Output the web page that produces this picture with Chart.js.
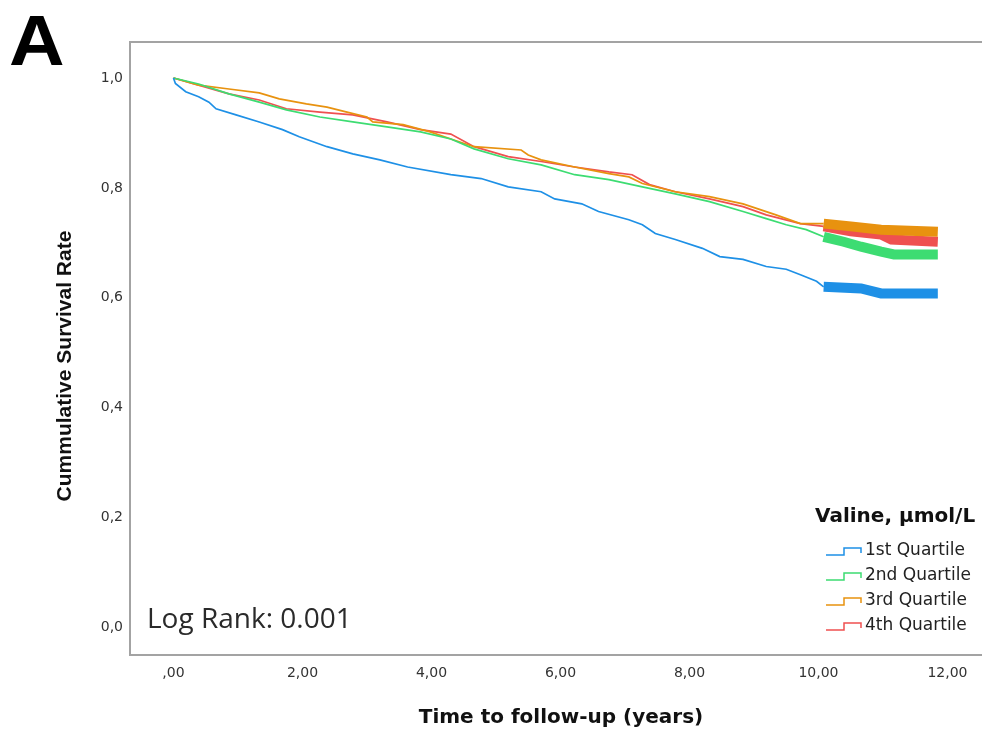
<!DOCTYPE html>
<html>
<head>
<meta charset="utf-8">
<script src="https://cdn.jsdelivr.net/npm/chart.js@4/dist/chart.umd.min.js"></script>
<style>
    html, body { margin: 0; padding: 0; background: #fff; overflow: hidden; }
    #wrap { width: 982px; height: 735px; position: relative; }
</style>
</head>
<body>
<div id="wrap"><canvas id="km"></canvas></div>
<script>
// 그룹 / 축 라벨
const groupLabels = ['1st Quartile', '2nd Quartile', '3rd Quartile', '4th Quartile'];
const legendTitle = 'Valine, μmol/L';
const xTicks = [0, 2, 4, 6, 8, 10, 12];
const xTickLabels = [',00', '2,00', '4,00', '6,00', '8,00', '10,00', '12,00'];
const yTicks = [0, 0.2, 0.4, 0.6, 0.8, 1.0];
const yTickLabels = ['0,0', '0,2', '0,4', '0,6', '0,8', '1,0'];

// Kaplan-Meier 곡선 (years, survival)
const q1Time = [0, 0.03, 0.19, 0.39, 0.55, 0.66, 0.97, 1.33, 1.69, 1.95, 2.38, 2.78, 3.2, 3.63, 4.3, 4.77, 5.19, 5.70, 5.91, 6.33, 6.59, 7.06, 7.27, 7.47, 7.78, 8.2, 8.47, 8.83, 9.19, 9.5, 9.72, 9.97, 10.08, 10.66, 10.97, 11.85];
const q1Surv = [1.0, 0.99, 0.975, 0.966, 0.956, 0.944, 0.933, 0.92, 0.906, 0.893, 0.875, 0.862, 0.851, 0.838, 0.824, 0.817, 0.802, 0.793, 0.78, 0.771, 0.757, 0.742, 0.733, 0.717, 0.706, 0.69, 0.675, 0.67, 0.657, 0.652, 0.642, 0.63, 0.62, 0.617, 0.608, 0.608];

const q2Time = [0, 0.39, 0.86, 1.33, 1.75, 2.27, 2.78, 3.31, 3.83, 4.3, 4.66, 5.19, 5.70, 6.22, 6.75, 7.27, 7.78, 8.31, 8.83, 9.19, 9.5, 9.81, 10.08, 10.39, 10.66, 10.97, 11.17, 11.85];
const q2Surv = [1.0, 0.989, 0.971, 0.956, 0.942, 0.929, 0.92, 0.911, 0.902, 0.889, 0.871, 0.853, 0.842, 0.824, 0.815, 0.802, 0.789, 0.775, 0.757, 0.744, 0.733, 0.724, 0.711, 0.702, 0.693, 0.684, 0.679, 0.679];

const q3Time = [0, 0.39, 0.86, 1.33, 1.64, 2.06, 2.38, 2.69, 3.0, 3.09, 3.56, 3.98, 4.3, 4.66, 5.39, 5.5, 5.70, 6.22, 6.75, 7.06, 7.27, 7.78, 8.31, 8.83, 9.34, 9.72, 10.08, 10.5, 10.97, 11.85];
const q3Surv = [1.0, 0.987, 0.98, 0.973, 0.962, 0.953, 0.947, 0.938, 0.929, 0.92, 0.915, 0.902, 0.889, 0.875, 0.869, 0.86, 0.851, 0.838, 0.826, 0.82, 0.808, 0.793, 0.784, 0.771, 0.751, 0.735, 0.735, 0.73, 0.724, 0.72];

const q4Time = [0, 0.39, 0.86, 1.33, 1.75, 2.27, 2.78, 3.31, 3.83, 4.3, 4.66, 5.19, 5.70, 6.22, 6.75, 7.11, 7.38, 7.78, 8.31, 8.83, 9.19, 9.72, 10.08, 10.5, 10.97, 11.13, 11.85];
const q4Surv = [1.0, 0.987, 0.971, 0.96, 0.944, 0.938, 0.933, 0.92, 0.906, 0.898, 0.875, 0.857, 0.848, 0.838, 0.829, 0.824, 0.806, 0.793, 0.78, 0.766, 0.751, 0.735, 0.73, 0.721, 0.715, 0.706, 0.702];

// 중도절단(+) 표시가 몰려 있는 구간 시작
const censorFrom = [10.05, 10.05, 10.0, 10.0];

const lineColors = ['#1e90e6', '#3ddc72', '#e8920f', '#ef5050'];
const borderGray = '#a3a3a3';

const series = [[q1Time, q1Surv], [q2Time, q2Surv], [q3Time, q3Surv], [q4Time, q4Surv]];

const datasets = series.map(([t, s], i) => ({
    label: groupLabels[i],
    data: t.map((x, k) => ({ x: x, y: s[k] })),
    borderColor: lineColors[i],
    borderWidth: 1.7,
    pointRadius: 0,
    tension: 0,
    fill: false,
    segment: {
        // 중도절단 구간은 두꺼운 띠처럼
        borderWidth: ctx => (ctx.p0.parsed.x >= censorFrom[i] ? 10 : 1.7)
    }
}));

const decor = {
    id: 'decor',
    afterDraw(chart) {
        const { ctx, chartArea: a } = chart;
        ctx.save();

        // 위쪽 테두리
        ctx.strokeStyle = borderGray;
        ctx.lineWidth = 2;
        ctx.beginPath();
        ctx.moveTo(a.left - 1, a.top);
        ctx.lineTo(a.right, a.top);
        ctx.stroke();

        // 패널 문자
        ctx.fillStyle = '#000';
        ctx.font = 'bold 70px "Liberation Sans", Arial, sans-serif';
        ctx.textAlign = 'left';
        ctx.textBaseline = 'alphabetic';
        ctx.save();
        ctx.translate(9, 65);
        ctx.scale(1.1, 1);
        ctx.fillText('A', 0, 0);
        ctx.restore();

        // y축 제목
        ctx.save();
        ctx.translate(65, 366);
        ctx.rotate(-Math.PI / 2);
        ctx.font = 'bold 21px "Liberation Sans", Arial, sans-serif';
        ctx.textAlign = 'center';
        ctx.textBaseline = 'middle';
        ctx.fillStyle = '#111';
        ctx.fillText('Cummulative Survival Rate', 0, 0, 272);
        ctx.restore();

        // x축 제목
        ctx.font = 'bold 20px "DejaVu Sans", sans-serif';
        ctx.textAlign = 'center';
        ctx.textBaseline = 'middle';
        ctx.fillStyle = '#111';
        ctx.fillText('Time to follow-up (years)', 561, 718);

        // Log Rank
        ctx.font = '28px "Open Sans", sans-serif';
        ctx.textAlign = 'left';
        ctx.textBaseline = 'alphabetic';
        ctx.fillStyle = '#2a2a2a';
        ctx.fillText('Log Rank: 0.001', 147, 628);

        // 범례
        ctx.font = 'bold 20px "DejaVu Sans", sans-serif';
        ctx.fillStyle = '#111';
        ctx.textBaseline = 'middle';
        ctx.fillText(legendTitle, 815, 517);

        ctx.font = '17px "DejaVu Sans", sans-serif';
        chart.data.datasets.forEach((ds, i) => {
            const cy = 551 + i * 25;
            ctx.strokeStyle = ds.borderColor;
            ctx.lineWidth = 1.5;
            ctx.beginPath();
            ctx.moveTo(826, cy + 4);
            ctx.lineTo(844, cy + 4);
            ctx.lineTo(844, cy - 3);
            ctx.lineTo(861, cy - 3);
            ctx.lineTo(861, cy + 2);
            ctx.stroke();
            ctx.fillStyle = '#222';
            ctx.fillText(ds.label, 865, cy);
        });

        ctx.restore();
    }
};

new Chart(document.getElementById('km').getContext('2d'), {
    type: 'line',
    data: { datasets: datasets },
    options: {
        responsive: true,
        maintainAspectRatio: false,
        animation: false,
        layout: { padding: { top: 42, right: 0, bottom: 0, left: 0 } },
        plugins: {
            legend: { display: false },
            tooltip: { enabled: false }
        },
        scales: {
            x: {
                type: 'linear',
                min: -0.674,
                max: 12.535,
                grid: { display: false, drawTicks: false },
                border: { display: true, color: borderGray, width: 2 },
                afterBuildTicks: s => { s.ticks = xTicks.map(v => ({ value: v })); },
                afterFit: s => { s.height = 80; },
                ticks: {
                    padding: 10,
                    maxRotation: 0,
                    autoSkip: false,
                    color: '#333',
                    font: { family: '"DejaVu Sans", sans-serif', size: 14 },
                    callback: v => xTickLabels[xTicks.indexOf(v)]
                }
            },
            y: {
                min: -0.05,
                max: 1.0655,
                grid: { display: false, drawTicks: false },
                border: { display: true, color: borderGray, width: 2 },
                afterBuildTicks: s => { s.ticks = yTicks.map(v => ({ value: v })); },
                afterFit: s => { s.width = 130; },
                ticks: {
                    padding: 7,
                    autoSkip: false,
                    color: '#333',
                    font: { family: '"DejaVu Sans", sans-serif', size: 14 },
                    callback: v => yTickLabels[yTicks.indexOf(v)]
                }
            }
        }
    },
    plugins: [decor]
});
</script>
</body>
</html>
